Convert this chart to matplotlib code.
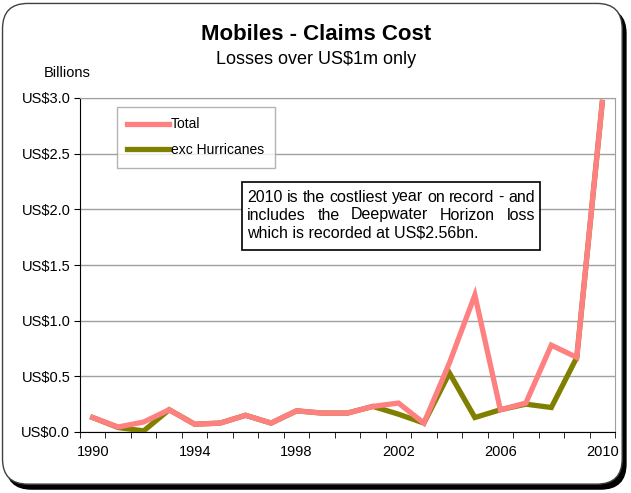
import matplotlib
matplotlib.use("Agg")
import matplotlib.pyplot as plt
from matplotlib.patches import FancyBboxPatch, Rectangle

plt.rcParams['font.family'] = ['Liberation Sans', 'DejaVu Sans']

# ----------------------------------------
# Data (US$ billions)
# ----------------------------------------
years = list(range(1990, 2011))
total = [0.13, 0.045, 0.09, 0.20, 0.07, 0.08, 0.15, 0.08, 0.19, 0.17, 0.17,
         0.23, 0.26, 0.08, 0.62, 1.23, 0.20, 0.26, 0.78, 0.67, 2.96]
exc_hurricanes = [0.13, 0.04, 0.01, 0.20, 0.07, 0.08, 0.15, 0.08, 0.19, 0.17, 0.17,
                  0.23, 0.16, 0.08, 0.53, 0.13, 0.20, 0.25, 0.22, 0.67, 2.96]
label_years = [1990, 1994, 1998, 2002, 2006, 2010]
y_ticks = [0.0, 0.5, 1.0, 1.5, 2.0, 2.5, 3.0]
note_lines = ["2010 is the costliest year on record - and",
              "includes the Deepwater Horizon loss",
              "which is recorded at US$2.56bn."]

W, H = 631, 493
fig = plt.figure(figsize=(W / 100, H / 100), dpi=100)


def fx(px):
    return px / W


def fy(py):
    # py measured from the top of the image
    return 1 - py / H


# rounded frame with shadow
shadow = FancyBboxPatch((0.010, 0.008), 0.982, 0.975, boxstyle="round,pad=0,rounding_size=0.04",
                        transform=fig.transFigure, facecolor="black", edgecolor="black",
                        mutation_aspect=W / H, zorder=0)
frame = FancyBboxPatch((0.004, 0.018), 0.982, 0.975, boxstyle="round,pad=0,rounding_size=0.04",
                       transform=fig.transFigure, facecolor="white", edgecolor="#404040",
                       linewidth=1, mutation_aspect=W / H, zorder=1)
fig.patches.extend([shadow, frame])

ax = fig.add_axes([fx(80), 61 / H, 535 / W, 334 / H])
ax.set_zorder(2)
ax.patch.set_alpha(0)

x = list(range(len(years)))
ax.plot(x, exc_hurricanes, color="#808000", linewidth=3.8, label="exc Hurricanes",
        solid_joinstyle="miter", zorder=3)
ax.plot(x, total, color="#FF8080", linewidth=3.8, label="Total",
        solid_joinstyle="miter", zorder=4)

ax.set_xlim(-0.5, len(years) - 0.5)
ax.set_ylim(0, 3.0)

# category axis: labels at centres, ticks at boundaries
ax.set_xticks([years.index(y) for y in label_years])
ax.set_xticklabels([str(y) for y in label_years], fontsize=10.5)
ax.set_xticks([i - 0.5 for i in range(len(years) + 1)], minor=True)
ax.tick_params(axis="x", which="major", length=0, pad=9)
ax.tick_params(axis="x", which="minor", length=4, direction="out", color="black")

ax.set_yticks(y_ticks)
ax.set_yticklabels(["US$%.1f" % v for v in y_ticks], fontsize=10.5)
ax.tick_params(axis="y", length=4, direction="out", pad=3)

ax.grid(axis="y", color="#A0A0A0", linewidth=1)
ax.set_axisbelow(True)
for side in ["top", "right"]:
    ax.spines[side].set_color("#A0A0A0")
ax.spines["left"].set_color("black")
ax.spines["bottom"].set_color("black")

# legend (Total first)
handles, labels = ax.get_legend_handles_labels()
leg = ax.legend(handles[::-1], labels[::-1], loc="upper left",
                bbox_to_anchor=((117 - 80) / 535, (432 - 107) / 334), borderaxespad=0,
                fontsize=10, frameon=True, fancybox=False, edgecolor="#A0A0A0",
                handlelength=3.0, handletextpad=0.15, labelspacing=0.85, borderpad=0.75)
leg.get_frame().set_linewidth(1)

# note box with justified text
fig.patches.append(Rectangle((fx(242), fy(250)), fx(540) - fx(242), fy(182) - fy(250),
                             transform=fig.transFigure, facecolor="white", edgecolor="black",
                             linewidth=1.2, zorder=5))
fig.canvas.draw()
renderer = fig.canvas.get_renderer()
left, right = 247, 535
line_y = [197, 215, 233]
note_size = 11.5
for i, line in enumerate(note_lines):
    if i == len(note_lines) - 1:
        fig.text(fx(left), fy(line_y[i]), line, fontsize=note_size, ha="left", va="center", zorder=6)
        continue
    words = line.split(" ")
    arts = [fig.text(0, fy(line_y[i]), w, fontsize=note_size, ha="left", va="center", zorder=6)
            for w in words]
    widths = [a.get_window_extent(renderer).width for a in arts]
    gap = (right - left - sum(widths)) / (len(words) - 1)
    pos = left
    for a, w in zip(arts, widths):
        a.set_x(fx(pos))
        pos += w + gap

fig.text(fx(316), fy(35), "Mobiles - Claims Cost", fontsize=16, fontweight="bold",
         ha="center", va="center", zorder=5)
fig.text(fx(316), fy(59), "Losses over US$1m only", fontsize=13,
         ha="center", va="center", zorder=5)
fig.text(fx(67), fy(73), "Billions", fontsize=10.5, ha="center", va="center", zorder=5)

fig.savefig("out.png", dpi=100)
